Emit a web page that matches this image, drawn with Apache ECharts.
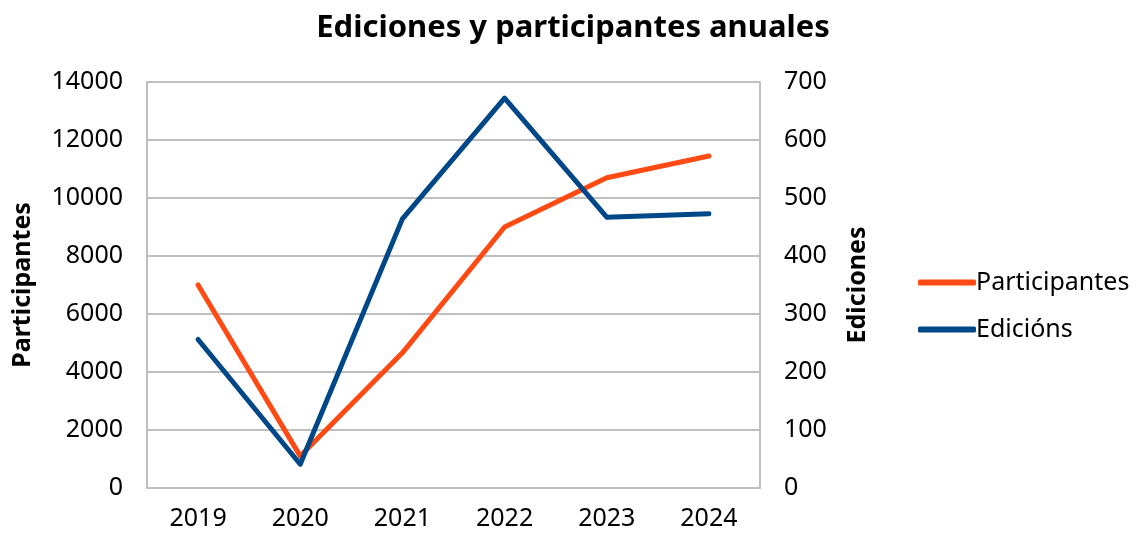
<!DOCTYPE html>
<html>
<head>
<meta charset="utf-8">
<script src="https://cdn.jsdelivr.net/npm/echarts@6/dist/echarts.min.js"></script>
<style>
  html, body { margin: 0; padding: 0; background: #ffffff; }
  #chart { width: 1138px; height: 533px; }
</style>
</head>
<body>
<div id="chart"></div>
<script>
// Annual editions and participants
const years = ['2019', '2020', '2021', '2022', '2023', '2024'];
const participantes = [7000, 1100, 4660, 9000, 10700, 11450];
const edicions = [256, 41, 464, 672, 467, 473];
const leftTicks = { min: 0, max: 14000, interval: 2000 };
const rightTicks = { min: 0, max: 700, interval: 100 };

const FONT = '"Noto Sans", "DejaVu Sans", sans-serif';
const gridColor = '#bfbfbf';
const plain = v => String(v);

const chart = echarts.init(document.getElementById('chart'), null, { renderer: 'canvas' });
chart.setOption({
  animation: false,
  backgroundColor: '#ffffff',
  textStyle: { fontFamily: FONT },
  title: {
    text: 'Ediciones y participantes anuales',
    left: 568, textAlign: 'center', top: 8,
    textStyle: { fontFamily: FONT, fontSize: 31, fontWeight: 'bold', color: '#000000' }
  },
  legend: {
    orient: 'vertical',
    left: 913, top: 265,
    itemWidth: 58, itemHeight: 6, itemGap: 22,
    icon: 'roundRect',
    textStyle: { fontFamily: FONT, fontSize: 25, color: '#000000', padding: [0, 0, 0, -5] },
    data: ['Participantes', 'Edicións']
  },
  grid: { left: 147, right: 378, top: 82, bottom: 45, outerBoundsMode: 'none' },
  xAxis: {
    type: 'category',
    data: years,
    boundaryGap: true,
    axisLine: { show: true, lineStyle: { color: gridColor, width: 2 } },
    axisTick: { show: false },
    axisLabel: { fontFamily: FONT, fontSize: 25, color: '#000000', margin: 18 }
  },
  yAxis: [
    {
      type: 'value',
      min: leftTicks.min, max: leftTicks.max, interval: leftTicks.interval,
      name: 'Participantes',
      nameLocation: 'middle', nameGap: 112, nameRotate: 90,
      nameTextStyle: { fontFamily: FONT, fontSize: 25, fontWeight: 'bold', color: '#000000' },
      axisLine: { show: true, lineStyle: { color: gridColor, width: 2 } },
      axisTick: { show: false },
      splitLine: { show: true, lineStyle: { color: gridColor, width: 2 } },
      axisLabel: { fontFamily: FONT, fontSize: 25, color: '#000000', margin: 24, formatter: plain }
    },
    {
      type: 'value',
      min: rightTicks.min, max: rightTicks.max, interval: rightTicks.interval,
      name: 'Ediciones',
      nameLocation: 'middle', nameGap: 85, nameRotate: 90,
      nameTextStyle: { fontFamily: FONT, fontSize: 25, fontWeight: 'bold', color: '#000000' },
      axisLine: { show: true, lineStyle: { color: gridColor, width: 2 } },
      axisTick: { show: false },
      splitLine: { show: false },
      axisLabel: { fontFamily: FONT, fontSize: 25, color: '#000000', margin: 24, formatter: plain }
    }
  ],
  series: [
    {
      name: 'Participantes',
      type: 'line',
      yAxisIndex: 0,
      data: participantes,
      symbol: 'none',
      lineStyle: { color: '#ff4a14', width: 5, cap: 'round', join: 'round' },
      itemStyle: { color: '#ff4a14' }
    },
    {
      name: 'Edicións',
      type: 'line',
      yAxisIndex: 1,
      data: edicions,
      symbol: 'none',
      lineStyle: { color: '#004787', width: 5, cap: 'round', join: 'round' },
      itemStyle: { color: '#004787' }
    }
  ]
});
</script>
</body>
</html>
